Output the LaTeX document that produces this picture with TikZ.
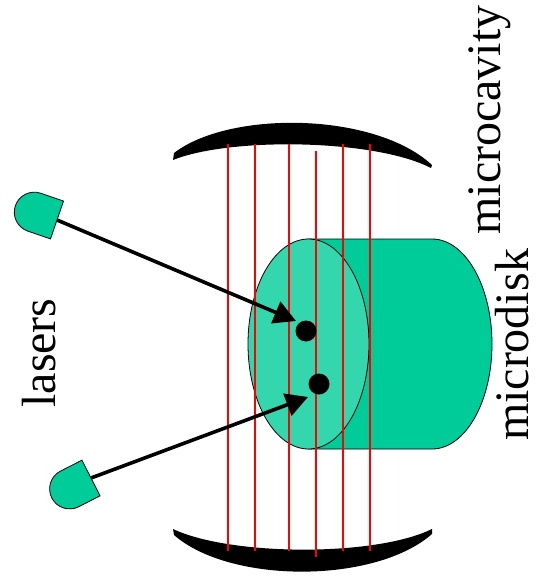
\documentclass[tikz,border=0pt]{standalone}
\usepackage{fontspec}
\setmainfont{Liberation Serif}
\usetikzlibrary{arrows.meta}
\definecolor{diskbody}{RGB}{0,204,153}
\definecolor{diskface}{RGB}{51,214,173}
\tikzset{
  mirror/.style={fill=black},
  beam/.style={red, line width=1.4pt},
  outlined/.style={draw=black, line width=0.8pt},
  spot/.style={circle, fill=black, inner sep=0pt, minimum size=21pt},
  pump/.style={line width=3.6pt, -{Triangle[length=22pt,width=23pt]}},
  label/.style={rotate=90, anchor=base, font=\fontsize{48}{50}\selectfont},
}
\begin{document}
\begin{tikzpicture}[x=1pt,y=-1pt]
\useasboundingbox (0,0) rectangle (539,586);

% cavity mirrors
\path[mirror] (173,160) -- (174,153) .. controls (230,110) and (375,112) .. (432,165)
  -- (431,168) .. controls (375,139) and (230,137) .. cycle;
\path[mirror] (173,529) -- (174,535) .. controls (230,584) and (375,584) .. (432,534)
  -- (432,529) .. controls (375,557) and (230,556) .. cycle;

% microdisk: cylinder body and front face
\path[outlined, fill=diskbody] (308,239) -- (432,239)
  arc[start angle=-90, end angle=90, x radius=60, y radius=105] -- (308,449) -- cycle;
\draw[outlined, fill=diskface] (308.5,344) ellipse[x radius=60.5, y radius=105];

% cavity modes
\foreach \xx in {228,255,289,343,370}
  \draw[beam] (\xx,144) -- (\xx,551);
\draw[beam] (316,151) -- (316,557);

% pumped spots
\node[spot] (dot1) at (306,331) {};
\node[spot] (dot2) at (319,384) {};
\coordinate (tip1) at (296,321);
\coordinate (tip2) at (308,397);

% lasers
\begin{scope}[shift={(57,220)}, rotate=-19]
  \draw[outlined, fill=diskbody] (0,-20) -- (-24,-20)
    arc[start angle=-90, end angle=-270, radius=20] -- (0,20) -- cycle;
  \coordinate (las1) at (0,0);
\end{scope}
\begin{scope}[shift={(91,478)}, rotate=27]
  \draw[outlined, fill=diskbody] (0,-20) -- (-24,-20)
    arc[start angle=-90, end angle=-270, radius=20] -- (0,20) -- cycle;
  \coordinate (las2) at (0,0);
\end{scope}

\draw[pump] (las1) -- (tip1);
\draw[pump] (las2) -- (tip2);

% labels
\node[label] (tlasers) at (55,353) {lasers};
\node[label] (tcavity) at (500,120) {microcavity};
\node[label] (tdisk) at (528,345) {microdisk};
\end{tikzpicture}
\end{document}
